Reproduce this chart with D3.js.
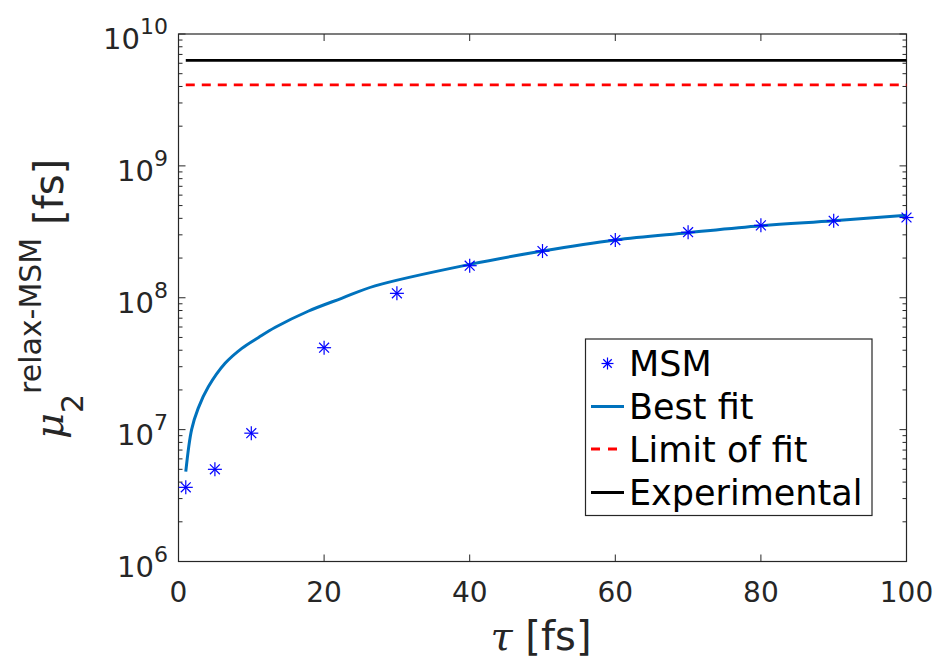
<!DOCTYPE html>
<html>
<head>
<meta charset="utf-8">
<script src="https://cdn.jsdelivr.net/npm/d3@7"></script>
<style>
  html, body { margin: 0; padding: 0; background: #fff; }
  svg { display: block; font-family: 'DejaVu Sans', sans-serif; }
</style>
</head>
<body>
<svg width="939" height="659"></svg>
<script>
// MSM points
const msmTau = [1, 5, 10, 20, 30, 40, 50, 60, 70, 80, 90, 100];
const msmVal = [3.65e6, 5.0e6, 9.4e6, 4.18e7, 1.08e8, 1.75e8, 2.26e8, 2.74e8, 3.14e8, 3.54e8, 3.83e8, 4.06e8];

// best fit curve
const fitTau = [1, 1.8, 2.7, 4.1, 6.4, 8.7, 11, 13.3, 17.8, 22.4, 27, 40, 50, 60, 70, 80, 90, 100];
const fitVal = [4.8e6, 1.0e7, 1.45e7, 2.11e7, 3.18e7, 4.13e7, 5.0e7, 5.97e7, 7.9e7, 9.9e7, 1.23e8, 1.79e8, 2.26e8, 2.74e8, 3.11e8, 3.51e8, 3.83e8, 4.22e8];

// horizontal reference lines
const lineTau = [1, 100];
const limitVal = 4.12e9;
const experimentalVal = 6.3e9;

const xTicks = [0, 20, 40, 60, 80, 100];
const yExponents = [6, 7, 8, 9, 10];
const legendLabels = ['MSM', 'Best fit', 'Limit of fit', 'Experimental'];

const svg = d3.select('svg');
const L = 178.5, R = 906.5, T = 34, B = 561.5;
const axisColor = '#262626';

const x = d3.scaleLinear().domain([0, 100]).range([L, R]);
const y = d3.scaleLog().domain([1e6, 1e10]).range([B, T]);

// box
svg.append('rect')
  .attr('x', L).attr('y', T)
  .attr('width', R - L).attr('height', B - T)
  .attr('fill', 'none').attr('stroke', axisColor).attr('stroke-width', 1.2);

// x ticks (inward, bottom and top)
const xt = svg.append('g');
xTicks.forEach((t) => {
  xt.append('line').attr('x1', x(t)).attr('x2', x(t)).attr('y1', B).attr('y2', B - 7)
    .attr('stroke', axisColor);
  xt.append('line').attr('x1', x(t)).attr('x2', x(t)).attr('y1', T).attr('y2', T + 7)
    .attr('stroke', axisColor);
  xt.append('text').attr('x', x(t)).attr('y', 601.5)
    .attr('text-anchor', 'middle').attr('font-size', 28).attr('fill', axisColor)
    .text(t);
});

// y ticks: major + minor on both sides
const yt = svg.append('g');
yExponents.forEach((e) => {
  const v = Math.pow(10, e);
  [[L, 1], [R, -1]].forEach(([px, dir]) => {
    yt.append('line').attr('x1', px).attr('x2', px + dir * 7)
      .attr('y1', y(v)).attr('y2', y(v)).attr('stroke', axisColor);
    if (e < 10) {
      for (let m = 2; m <= 9; m++) {
        yt.append('line').attr('x1', px).attr('x2', px + dir * 4)
          .attr('y1', y(m * v)).attr('y2', y(m * v)).attr('stroke', axisColor);
      }
    }
  });
  const lab = yt.append('text').attr('x', 168).attr('y', y(v) + 15)
    .attr('text-anchor', 'end').attr('fill', axisColor).attr('font-size', 29);
  lab.append('tspan').text('10');
  lab.append('tspan').attr('font-size', 22).attr('dy', -15).text(e);
});

// reference lines
svg.append('line')
  .attr('x1', x(lineTau[0])).attr('x2', x(lineTau[1]))
  .attr('y1', y(experimentalVal)).attr('y2', y(experimentalVal))
  .attr('stroke', '#000').attr('stroke-width', 2.8);
svg.append('line')
  .attr('x1', x(lineTau[0])).attr('x2', x(lineTau[1]))
  .attr('y1', y(limitVal)).attr('y2', y(limitVal))
  .attr('stroke', '#ff0000').attr('stroke-width', 2.8)
  .attr('stroke-dasharray', '9,7');

// best fit
const fitData = fitTau.map((t, i) => [t, fitVal[i]]);
svg.append('path')
  .datum(fitData)
  .attr('fill', 'none').attr('stroke', '#0072BD').attr('stroke-width', 3)
  .attr('d', d3.line().x((d) => x(d[0])).y((d) => y(d[1])).curve(d3.curveCatmullRom.alpha(0.5)));

// asterisk marker
function star(g, cx, cy, r) {
  const d = r * Math.SQRT1_2;
  const segs = [[0, -r, 0, r], [-r, 0, r, 0], [-d, -d, d, d], [-d, d, d, -d]];
  segs.forEach((s) => {
    g.append('line')
      .attr('x1', cx + s[0]).attr('y1', cy + s[1])
      .attr('x2', cx + s[2]).attr('y2', cy + s[3])
      .attr('stroke', '#0000ff').attr('stroke-width', 1.2);
  });
}
const pts = svg.append('g');
msmTau.forEach((t, i) => star(pts, x(t), y(msmVal[i]), 7));

// legend
const lg = svg.append('g');
lg.append('rect')
  .attr('x', 585.5).attr('y', 339).attr('width', 286.5).attr('height', 176.5)
  .attr('fill', '#fff').attr('stroke', axisColor).attr('stroke-width', 1.2);
const rowY = [363.5, 406.5, 449, 492.5];
legendLabels.forEach((lbl, i) => {
  lg.append('text').attr('x', 629).attr('y', rowY[i] + 12.5)
    .attr('font-size', 35).attr('fill', '#000').text(lbl);
});
star(lg, 607.5, rowY[0], 6);
lg.append('line').attr('x1', 591).attr('x2', 624).attr('y1', rowY[1]).attr('y2', rowY[1])
  .attr('stroke', '#0072BD').attr('stroke-width', 3);
lg.append('line').attr('x1', 591).attr('x2', 624).attr('y1', rowY[2]).attr('y2', rowY[2])
  .attr('stroke', '#ff0000').attr('stroke-width', 2.8).attr('stroke-dasharray', '9,8');
lg.append('line').attr('x1', 591).attr('x2', 624).attr('y1', rowY[3]).attr('y2', rowY[3])
  .attr('stroke', '#000').attr('stroke-width', 2.8);

// x label
const xl = svg.append('text').attr('x', 541).attr('y', 650)
  .attr('text-anchor', 'middle').attr('font-size', 40).attr('fill', axisColor);
xl.append('tspan').attr('font-style', 'italic').attr('font-family', 'DejaVu Serif').text('τ');
xl.append('tspan').text(' [fs]');

// y label
const yl = svg.append('text')
  .attr('transform', 'translate(63,299) rotate(-90)')
  .attr('text-anchor', 'middle').attr('font-size', 40).attr('fill', axisColor);
yl.append('tspan').attr('font-style', 'italic').attr('font-family', 'DejaVu Serif').text('μ');
yl.append('tspan').attr('font-size', 30).attr('dy', 20).text('2');
yl.append('tspan').attr('font-size', 30).attr('dy', -42).text('relax-MSM');
yl.append('tspan').attr('dy', 22).text(' [fs]');
</script>
</body>
</html>
